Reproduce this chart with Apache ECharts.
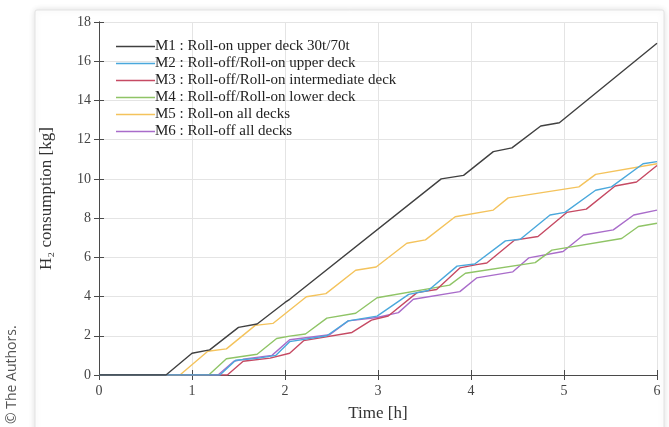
<!DOCTYPE html>
<html>
<head>
<meta charset="utf-8">
<script src="https://cdn.jsdelivr.net/npm/echarts@6/dist/echarts.min.js"></script>
<style>
html,body{margin:0;padding:0;background:#ffffff;}
#c{width:669px;height:427px;}
</style>
</head>
<body>
<div id="c"></div>
<script>
var seriesNames = [
  'M1 : Roll-on upper deck 30t/70t',
  'M2 : Roll-off/Roll-on upper deck',
  'M3 : Roll-off/Roll-on intermediate deck',
  'M4 : Roll-off/Roll-on lower deck',
  'M5 : Roll-on all decks',
  'M6 : Roll-off all decks'
];
var xTicks = [0, 1, 2, 3, 4, 5, 6];
var yTicks = [0, 2, 4, 6, 8, 10, 12, 14, 16, 18];

var m1Time  = [0, 0.72, 1.0, 1.19, 1.5, 1.70, 2.0, 2.05, 3.68, 3.92, 4.24, 4.44, 4.75, 4.95, 6.0];
var m1Value = [0, 0, 1.11, 1.28, 2.43, 2.6, 3.7, 3.86, 10.0, 10.18, 11.39, 11.58, 12.7, 12.86, 16.92];

var m2Time  = [0, 1.30, 1.47, 1.70, 1.90, 2.05, 2.45, 2.68, 2.99, 3.33, 3.54, 3.85, 4.04, 4.37, 4.53, 4.85, 5.01, 5.34, 5.51, 5.85, 6.0];
var m2Value = [0, 0, 0.75, 0.85, 1.0, 1.7, 2.0, 2.76, 3.0, 4.11, 4.31, 5.55, 5.66, 6.84, 6.92, 8.16, 8.29, 9.42, 9.59, 10.77, 10.88];

var m3Time  = [0, 1.38, 1.55, 1.84, 2.05, 2.2, 2.72, 2.93, 3.11, 3.42, 3.63, 3.88, 4.06, 4.17, 4.47, 4.72, 5.03, 5.24, 5.55, 5.78, 6.0];
var m3Value = [0, 0, 0.7, 0.86, 1.11, 1.75, 2.17, 2.8, 3.01, 4.2, 4.36, 5.46, 5.63, 5.71, 6.88, 7.06, 8.29, 8.46, 9.64, 9.84, 10.68];

var m4Time  = [0, 1.18, 1.37, 1.70, 1.91, 2.05, 2.22, 2.45, 2.76, 2.99, 3.77, 3.94, 4.69, 4.87, 5.62, 5.8, 6.0];
var m4Value = [0, 0, 0.83, 1.06, 1.86, 1.98, 2.09, 2.9, 3.15, 3.94, 4.58, 5.19, 5.73, 6.37, 6.96, 7.57, 7.74];

var m5Time  = [0, 0.87, 1.17, 1.37, 1.68, 1.87, 2.23, 2.44, 2.76, 2.98, 3.31, 3.51, 3.83, 4.24, 4.40, 5.16, 5.34, 6.0];
var m5Value = [0, 0, 1.21, 1.33, 2.53, 2.63, 3.99, 4.15, 5.34, 5.51, 6.72, 6.89, 8.07, 8.41, 9.03, 9.59, 10.23, 10.77];

var m6Time  = [0, 1.28, 1.45, 1.55, 1.86, 2.05, 2.48, 2.68, 2.99, 3.22, 3.38, 3.88, 4.06, 4.45, 4.62, 4.99, 5.21, 5.53, 5.75, 6.0];
var m6Value = [0, 0, 0.7, 0.8, 1.0, 1.8, 2.05, 2.76, 2.93, 3.18, 3.86, 4.25, 4.95, 5.26, 5.97, 6.3, 7.14, 7.4, 8.16, 8.41];

var colors = ['#404040', '#4aa8dc', '#c64a63', '#8fc466', '#f4c35c', '#a96cca'];
var times = [m1Time, m2Time, m3Time, m4Time, m5Time, m6Time];
var values = [m1Value, m2Value, m3Value, m4Value, m5Value, m6Value];

function pairs(t, v) {
  var out = [];
  for (var i = 0; i < t.length; i++) out.push([t[i], v[i]]);
  return out;
}

var serif = 'Liberation Serif';
var series = [];
for (var k = 0; k < seriesNames.length; k++) {
  series.push({
    name: seriesNames[k],
    type: 'line',
    symbol: 'none',
    data: pairs(times[k], values[k]),
    lineStyle: { color: colors[k], width: 1.4 },
    itemStyle: { color: colors[k] },
    z: 10 - k
  });
}

var axisCommon = {
  type: 'value',
  axisLine: { show: true, lineStyle: { color: '#4a4a4a', width: 1 } },
  axisTick: { show: true, inside: true, length: 5, lineStyle: { color: '#4a4a4a' } }
};

var chart = echarts.init(document.getElementById('c'), null, { renderer: 'canvas' });
chart.setOption({
  animation: false,
  backgroundColor: '#ffffff',
  graphic: [
    {
      type: 'rect',
      shape: { x: 35, y: 10, width: 629, height: 440, r: 2 },
      style: { fill: '#ffffff', stroke: '#e2e2e2', lineWidth: 1, shadowBlur: 6, shadowColor: 'rgba(0,0,0,0.12)' },
      z: -10
    },
    {
      type: 'text',
      x: 12,
      y: 424,
      rotation: Math.PI / 2,
      style: {
        text: '© The Authors.',
        font: '14px "Open Sans"',
        fill: '#555555',
        textAlign: 'left',
        textVerticalAlign: 'middle'
      }
    }
  ],
  grid: { left: 99, right: 12, top: 22, bottom: 49, containLabel: false },
  legend: {
    left: 111,
    top: 34,
    orient: 'vertical',
    itemWidth: 39,
    itemHeight: 12,
    itemGap: 2,
    icon: 'path://M0,0 L300,0 L300,10 L0,10 Z',
    textStyle: { fontFamily: serif, fontSize: 15, color: '#222222', padding: [0, 0, 0, -5] },
    data: seriesNames.map(function (n, i) { return { name: n, itemStyle: { color: colors[i] } }; })
  },
  xAxis: [
    Object.assign({}, axisCommon, {
      min: xTicks[0], max: xTicks[xTicks.length - 1], interval: 1,
      position: 'bottom',
      name: 'Time [h]', nameLocation: 'middle', nameGap: 30,
      nameTextStyle: { fontFamily: serif, fontSize: 17, color: '#333333' },
      axisLabel: { fontFamily: serif, fontSize: 14, color: '#444444', margin: 9 },
      splitLine: { show: true, lineStyle: { color: '#e4e4e4', width: 1 } }
    }),
    Object.assign({}, axisCommon, {
      min: xTicks[0], max: xTicks[xTicks.length - 1], interval: 1,
      position: 'top',
      axisLabel: { show: false },
      splitLine: { show: false }
    })
  ],
  yAxis: [
    Object.assign({}, axisCommon, {
      min: yTicks[0], max: yTicks[yTicks.length - 1], interval: 2,
      position: 'left',
      name: 'H\u2082 consumption [kg]', nameLocation: 'middle', nameGap: 44,
      nameTextStyle: { fontFamily: serif, fontSize: 17, color: '#333333' },
      axisLabel: { fontFamily: serif, fontSize: 14, color: '#444444', margin: 8 },
      splitLine: { show: true, lineStyle: { color: '#e4e4e4', width: 1 } }
    }),
    Object.assign({}, axisCommon, {
      min: yTicks[0], max: yTicks[yTicks.length - 1], interval: 2,
      position: 'right',
      axisLabel: { show: false },
      splitLine: { show: false }
    })
  ],
  series: series
});
</script>
</body>
</html>
